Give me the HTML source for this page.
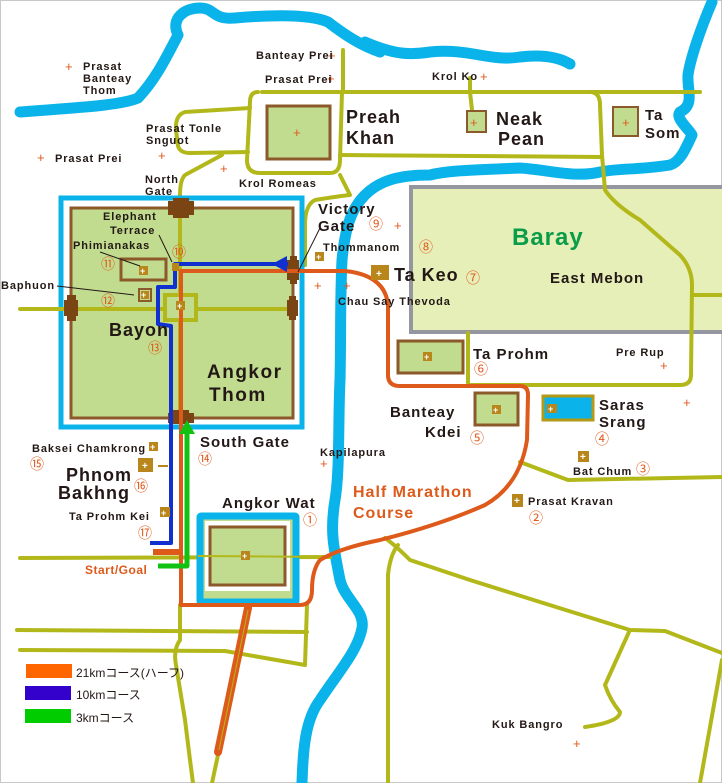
<!DOCTYPE html>
<html><head><meta charset="utf-8"><style>
html,body{margin:0;padding:0;background:#fff}
svg{display:block}
text{font-family:"Liberation Sans","Noto Sans CJK JP",sans-serif;font-weight:bold;fill:#231815}
.s{font-size:11px;letter-spacing:0.9px}
.m{font-size:15px;letter-spacing:1px}
.l{font-size:18px;letter-spacing:1px}
.n{font-size:14px;fill:#e05a1e;font-weight:normal}
.p{fill:#e05a1e;font-size:13px;font-weight:normal}
</style></head><body>
<svg width="722" height="783" viewBox="0 0 722 783" xmlns="http://www.w3.org/2000/svg">
<rect x="0.5" y="0.5" width="721" height="782" fill="#fff" stroke="#c8c8c8"/>
<rect x="411" y="187" width="313" height="145" fill="#e6efb8" stroke="#9597a0" stroke-width="4"/>
<g fill="none" stroke="#0ab3ea" stroke-width="11" stroke-linecap="round" stroke-linejoin="round">
<path d="M20,112 C70,108 120,106 138,98 C155,80 165,60 178,35 C170,18 185,8 200,8 C215,8 212,20 235,18 C270,15 310,14 328,22 C345,35 360,45 380,52"/>
<path d="M365,42 C395,55 410,55 430,52 C470,48 490,62 520,57 C545,54 560,58 570,64"/>
<path d="M712,2 C700,30 690,60 688,75 C687,90 695,105 680,112 C675,118 688,128 692,135 C685,150 680,162 670,165 C640,170 620,168 600,172 C575,178 550,170 520,168 C480,170 450,170 430,175 C400,175 380,180 365,195 C350,210 345,230 342,260 C340,300 341,340 340,380 C338,420 340,470 335,500 C330,530 333,545 340,580 C345,600 365,610 362,628 C358,650 340,670 320,700 C305,720 303,750 302,783"/>
</g>
<g fill="none" stroke="#b3b81a" stroke-width="4" stroke-linecap="round" stroke-linejoin="round">
<path d="M262,92 L700,92"/>
<path d="M258,92 Q250,92 250,102 L247,160 Q247,173 260,173 L330,173 Q340,173 340,160 L342,92"/>
<path d="M343,50 L343,92"/>
<path d="M470,78 L470,92 L472,110"/>
<path d="M590,92 Q600,92 600,105 L602,155 L605,190 Q615,205 640,220 L680,255 Q692,268 692,285 L691,375 Q691,385 680,385 L470,385"/>
<path d="M340,155 L602,157"/>
<path d="M468,333 L468,385"/>
<path d="M692,295 L722,295"/>
<path d="M250,108 L185,112 Q175,115 176,130 L178,146 Q180,153 190,153 L248,152"/>
<path d="M222,155 L185,175 Q180,180 180,195 L180,308"/>
<path d="M340,175 L350,195 Q340,196 315,200 Q305,205 305,225 L305,265"/>
<path d="M20,309 L293,309"/>
<path d="M20,558 L330,557"/>
<path d="M17,630 L307,632"/>
<path d="M20,650 L225,651 L305,665 L307,605"/>
<path d="M180,605 L180,640 Q173,650 176,665 L185,720 L190,760 L193,783"/>
<path d="M218,755 L212,783"/>
<path d="M385,538 Q395,545 410,560 L470,580 L540,602 L630,630 L665,631 L722,653"/>
<path d="M398,545 Q390,555 388,575 L388,783"/>
<path d="M629,632 L605,685 Q610,700 620,712 Q620,722 585,727"/>
<path d="M722,660 L700,783"/>
<path d="M520,462 L568,480 L722,477"/>
</g>
<rect x="61" y="198" width="241" height="229" fill="#fff" stroke="#0ab3ea" stroke-width="5"/>
<rect x="71" y="208" width="222" height="210" fill="#c1dc8f" stroke="#8c5a2a" stroke-width="3"/>
<g stroke="#b3b81a" stroke-width="4" fill="none">
<path d="M20,309 L293,309"/><path d="M180,208 L180,418"/>
<rect x="165" y="295" width="31" height="25" fill="#c1dc8f"/>
</g>
<rect x="121" y="259" width="45" height="21" fill="none" stroke="#8c5a2a" stroke-width="3"/>
<rect x="139" y="289" width="12" height="12" fill="none" stroke="#8c5a2a" stroke-width="2"/>
<g fill="#7a4512">
<rect x="168" y="201" width="26" height="14"/><rect x="173" y="198" width="16" height="20"/>
<rect x="168" y="413" width="26" height="10"/><rect x="173" y="410" width="16" height="14"/>
<rect x="64" y="300" width="14" height="16"/><rect x="67" y="295" width="9" height="26"/>
<rect x="287" y="300" width="11" height="16"/><rect x="289" y="296" width="7" height="24"/>
<rect x="287" y="260" width="12" height="20"/><rect x="290" y="256" width="7" height="28"/>
</g>
<rect x="267" y="106" width="63" height="53" fill="#c1dc8f" stroke="#8c5a2a" stroke-width="3"/>
<rect x="467" y="111" width="19" height="21" fill="#c1dc8f" stroke="#8c5a2a" stroke-width="2"/>
<rect x="613" y="107" width="25" height="29" fill="#c1dc8f" stroke="#8c5a2a" stroke-width="2"/>
<rect x="398" y="341" width="65" height="32" fill="#c1dc8f" stroke="#8c5a2a" stroke-width="3"/>
<rect x="475" y="393" width="43" height="32" fill="#c1dc8f" stroke="#8c5a2a" stroke-width="3"/>
<rect x="543" y="396" width="50" height="24" fill="#0ab3ea" stroke="#b39a17" stroke-width="3"/>
<rect x="200" y="516" width="96" height="86" fill="#c1dc8f" stroke="#0ab3ea" stroke-width="7" rx="3"/>
<rect x="198" y="514" width="100" height="90" fill="none" stroke="#0ab3ea" stroke-width="3" rx="3"/>
<rect x="205" y="521" width="85" height="70" fill="#fff"/>
<rect x="210" y="527" width="75" height="58" fill="#c1dc8f" stroke="#8c5a2a" stroke-width="3"/>
<line x1="198" y1="556" x2="330" y2="557" stroke="#b3b81a" stroke-width="2"/>
<g fill="none" stroke="#dd5a1a" stroke-linejoin="round" stroke-linecap="round">
<path stroke-width="4" d="M181,605 L181,271 L345,271 Q385,275 388,305 L388,375 Q388,386 400,386 L520,386 Q528,386 528,395 L527,440 Q520,485 485,505 Q440,525 380,540 Q340,548 320,560 Q312,570 312,590 Q312,605 300,605 Z"/>
<path stroke-width="6" stroke-linecap="butt" d="M153,552 L181,552"/>
<path stroke-width="8" d="M248,608 L218,752"/>
</g>
<line x1="248" y1="610" x2="219" y2="750" stroke="#b3b81a" stroke-width="1"/>
<path d="M288,264 L175,264 L175,287 L158,287 L158,324 L171,326 L171,543 L150,543" fill="none" stroke="#1030d0" stroke-width="4" stroke-linejoin="round"/>
<polygon points="272,264 287,256 287,272" fill="#1030d0"/>
<path d="M187,432 L187,566 L158,566" fill="none" stroke="#12c212" stroke-width="5" stroke-linejoin="round"/>
<polygon points="187,420 179,434 195,434" fill="#12c212"/>
<g fill="#b8861a">
<rect x="139" y="266" width="9" height="9"/><rect x="141" y="291" width="8" height="8"/><rect x="172" y="263" width="7" height="8"/>
<rect x="176" y="301" width="9" height="9"/><rect x="241" y="551" width="9" height="9"/>
<rect x="371" y="265" width="18" height="15"/><rect x="315" y="252" width="9" height="9"/>
<rect x="423" y="352" width="9" height="9"/><rect x="492" y="405" width="9" height="9"/><rect x="547" y="404" width="10" height="9"/>
<rect x="578" y="451" width="11" height="11"/><rect x="512" y="494" width="11" height="13"/>
<rect x="149" y="442" width="9" height="9"/><rect x="138" y="458" width="15" height="14"/><rect x="160" y="507" width="10" height="10"/>
</g>
<g>
<text x="140" y="274" style="fill:#fff;font-size:9px">+</text><text x="141" y="298" style="fill:#fff;font-size:9px">+</text>
<text x="177" y="309" style="fill:#fff;font-size:9px">+</text><text x="242" y="559" style="fill:#fff;font-size:9px">+</text>
<text x="376" y="277" style="fill:#fff;font-size:10px">+</text><text x="316" y="260" style="fill:#fff;font-size:9px">+</text>
<text x="424" y="360" style="fill:#fff;font-size:9px">+</text><text x="493" y="413" style="fill:#fff;font-size:9px">+</text>
<text x="548" y="412" style="fill:#fff;font-size:9px">+</text><text x="580" y="460" style="fill:#fff;font-size:10px">+</text>
<text x="514" y="504" style="fill:#fff;font-size:10px">+</text><text x="150" y="450" style="fill:#fff;font-size:9px">+</text>
<text x="142" y="469" style="fill:#fff;font-size:10px">+</text><text x="161" y="516" style="fill:#fff;font-size:9px">+</text>
</g>
<g>
<text class="p" x="65" y="71">+</text><text class="p" x="37" y="162">+</text><text class="p" x="158" y="160">+</text>
<text class="p" x="220" y="173">+</text><text class="p" x="328" y="60">+</text><text class="p" x="327" y="83">+</text>
<text class="p" x="480" y="81">+</text><text class="p" x="293" y="137">+</text><text class="p" x="470" y="127">+</text>
<text class="p" x="622" y="127">+</text><text class="p" x="394" y="230">+</text><text class="p" x="314" y="290">+</text>
<text class="p" x="343" y="290">+</text><text class="p" x="320" y="468">+</text><text class="p" x="660" y="370">+</text>
<text class="p" x="683" y="407">+</text><text class="p" x="573" y="748">+</text>
</g>
<text class="s" x="83" y="70">Prasat</text><text class="s" x="83" y="82">Banteay</text><text class="s" x="83" y="94">Thom</text>
<text class="s" x="55" y="162">Prasat Prei</text>
<text class="s" x="146" y="132">Prasat Tonle</text><text class="s" x="146" y="144">Snguot</text>
<text class="s" x="145" y="183">North</text><text class="s" x="145" y="195">Gate</text>
<text class="s" x="239" y="187">Krol Romeas</text>
<text class="s" x="256" y="59">Banteay Prei</text><text class="s" x="265" y="83">Prasat Prei</text>
<text class="s" x="432" y="80">Krol Ko</text>
<text class="l" x="346" y="123">Preah</text><text class="l" x="346" y="144">Khan</text>
<text class="l" x="496" y="125">Neak</text><text class="l" x="498" y="145">Pean</text>
<text class="m" x="645" y="120">Ta</text><text class="m" x="645" y="138">Som</text>
<text x="512" y="245" style="font-size:24px;fill:#0a9c48;letter-spacing:1px">Baray</text>
<text class="m" x="550" y="283">East Mebon</text>
<text class="m" x="318" y="214">Victory</text><text class="m" x="318" y="231">Gate</text>
<text class="s" x="323" y="251">Thommanom</text>
<text class="l" x="394" y="281">Ta Keo</text>
<text class="s" x="338" y="305">Chau Say Thevoda</text>
<text class="m" x="473" y="359">Ta Prohm</text>
<text class="s" x="616" y="356">Pre Rup</text>
<text class="m" x="390" y="417">Banteay</text><text class="m" x="425" y="437">Kdei</text>
<text class="m" x="599" y="410">Saras</text><text class="m" x="599" y="427">Srang</text>
<text class="s" x="573" y="475">Bat Chum</text>
<text class="s" x="528" y="505">Prasat Kravan</text>
<text class="s" x="320" y="456">Kapilapura</text>
<text x="353" y="497" style="font-size:16px;fill:#dd5a1a;letter-spacing:1px">Half Marathon</text>
<text x="353" y="518" style="font-size:16px;fill:#dd5a1a;letter-spacing:1px">Course</text>
<text class="s" x="492" y="728">Kuk Bangro</text>
<text class="s" x="103" y="220">Elephant</text><text class="s" x="110" y="234">Terrace</text>
<text class="s" x="73" y="249">Phimianakas</text>
<text class="s" x="1" y="289">Baphuon</text>
<text class="l" x="109" y="336">Bayon</text>
<text x="207" y="378" style="font-size:19px;letter-spacing:1.5px">Angkor</text><text x="209" y="401" style="font-size:19px;letter-spacing:1.5px">Thom</text>
<text class="m" x="200" y="447">South Gate</text>
<text class="s" x="32" y="452">Baksei Chamkrong</text>
<text class="l" x="66" y="481">Phnom</text><text class="l" x="58" y="499">Bakhng</text>
<text class="s" x="69" y="520">Ta Prohm Kei</text>
<text class="m" x="222" y="508">Angkor Wat</text>
<text x="85" y="574" style="font-size:12px;fill:#dd5a1a;letter-spacing:0.5px">Start/Goal</text>
<text class="n" x="303" y="525">①</text><text class="n" x="529" y="523">②</text><text class="n" x="636" y="474">③</text>
<text class="n" x="595" y="444">④</text><text class="n" x="470" y="443">⑤</text><text class="n" x="474" y="374">⑥</text>
<text class="n" x="466" y="283">⑦</text><text class="n" x="419" y="252">⑧</text><text class="n" x="369" y="229">⑨</text>
<text class="n" x="172" y="257">⑩</text><text class="n" x="101" y="269">⑪</text><text class="n" x="101" y="306">⑫</text>
<text class="n" x="148" y="353">⑬</text><text class="n" x="198" y="464">⑭</text><text class="n" x="30" y="469">⑮</text>
<text class="n" x="134" y="491">⑯</text><text class="n" x="138" y="538">⑰</text>
<g stroke="#231815" stroke-width="1">
<line x1="159" y1="235" x2="172" y2="262"/><line x1="100" y1="252" x2="140" y2="266"/>
<line x1="57" y1="286" x2="134" y2="295"/><line x1="320" y1="228" x2="298" y2="272"/>
<line x1="158" y1="466" x2="168" y2="466" stroke="#b8861a" stroke-width="2"/>
</g>
<rect x="26" y="664" width="46" height="14" fill="#ff6600"/>
<rect x="25" y="686" width="46" height="14" fill="#3300cc"/>
<rect x="25" y="709" width="46" height="14" fill="#00cc00"/>
<text x="76" y="677" style="font-size:12px;font-weight:normal">21kmコース(ハーフ)</text>
<text x="76" y="699" style="font-size:12px;font-weight:normal">10kmコース</text>
<text x="76" y="722" style="font-size:12px;font-weight:normal">3kmコース</text>
</svg>
</body></html>
